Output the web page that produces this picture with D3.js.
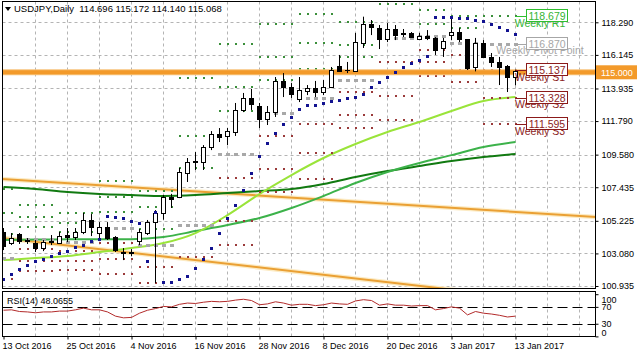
<!DOCTYPE html>
<html><head><meta charset="utf-8">
<script src="https://cdn.jsdelivr.net/npm/d3@7"></script>
<style>
body{margin:0;background:#fff}
svg{display:block}
text{font-family:"Liberation Sans",Arial,sans-serif}
</style></head>
<body><svg id="c" width="637" height="358"></svg>
<script>
// ---------- DATA ----------
const dates = ["2016-10-13","2016-10-14","2016-10-17","2016-10-18","2016-10-19","2016-10-20","2016-10-21","2016-10-24","2016-10-25","2016-10-26","2016-10-27","2016-10-28","2016-10-31","2016-11-01","2016-11-02","2016-11-03","2016-11-04","2016-11-07","2016-11-08","2016-11-09","2016-11-10","2016-11-11","2016-11-14","2016-11-15","2016-11-16","2016-11-17","2016-11-18","2016-11-21","2016-11-22","2016-11-23","2016-11-24","2016-11-25","2016-11-28","2016-11-29","2016-11-30","2016-12-01","2016-12-02","2016-12-05","2016-12-06","2016-12-07","2016-12-08","2016-12-09","2016-12-12","2016-12-13","2016-12-14","2016-12-15","2016-12-16","2016-12-19","2016-12-20","2016-12-21","2016-12-22","2016-12-23","2016-12-27","2016-12-28","2016-12-29","2016-12-30","2017-01-03","2017-01-04","2017-01-05","2017-01-06","2017-01-09","2017-01-10","2017-01-11","2017-01-12","2017-01-13"];
const open  = [104.49,103.76,104.35,103.89,103.76,103.43,103.83,103.76,104.29,104.16,104.49,105.28,104.42,104.81,104.16,103.17,103.10,103.89,104.42,105.14,105.74,106.79,106.80,108.37,109.09,109.09,110.08,110.94,110.81,111.07,112.52,113.31,112.78,111.92,112.38,114.43,114.03,113.24,113.77,113.96,113.70,114.03,115.41,115.15,115.08,116.93,118.18,117.91,117.19,117.85,117.59,117.59,117.19,117.39,117.26,116.60,117.45,117.65,117.19,115.35,116.93,116.01,115.68,115.41,114.696];
const high  = [104.75,104.42,104.42,104.09,103.96,103.96,104.29,104.49,104.75,104.75,105.74,105.67,105.14,105.14,104.22,103.43,103.36,104.68,105.28,105.93,106.92,107.00,108.70,109.36,109.75,110.21,111.13,111.33,111.33,112.98,113.64,113.90,112.98,112.78,114.69,114.95,114.29,114.69,114.16,114.43,114.49,115.35,116.14,115.68,117.59,118.66,118.44,118.11,118.24,118.11,117.85,117.65,117.59,117.78,117.32,117.26,118.60,117.91,117.19,117.26,117.12,116.27,116.01,115.48,115.172];
const low   = [103.30,103.63,103.70,103.70,103.17,103.23,103.63,103.70,103.83,103.96,104.35,104.22,104.09,103.96,103.17,102.64,102.90,103.63,104.29,101.13,105.30,106.07,106.72,107.78,108.57,108.57,109.88,110.41,110.21,110.81,112.38,112.52,111.33,111.53,112.06,113.37,113.31,113.04,113.50,113.37,113.50,113.96,115.02,114.95,115.02,116.60,117.45,116.53,116.99,117.12,117.32,117.26,117.12,117.12,116.14,116.01,117.12,116.99,115.15,115.06,115.94,115.35,114.16,113.70,114.140];
const close = [103.56,104.09,103.89,103.96,103.43,103.83,103.89,104.22,104.16,104.49,105.28,104.81,104.81,104.09,103.30,103.10,103.17,104.49,105.14,105.74,106.79,106.66,108.43,109.09,109.16,110.08,110.94,110.74,111.13,112.52,113.31,112.91,111.92,112.38,114.43,114.03,113.57,113.83,113.96,113.70,114.03,115.15,115.08,115.16,116.99,118.18,117.98,117.19,117.85,117.45,117.55,117.32,117.39,117.26,116.47,117.06,117.65,117.19,115.28,116.95,116.01,115.68,115.35,114.69,115.068];

// Parabolic SAR
const sar = [101.39,101.72,102.05,102.31,102.58,102.71,102.91,103.10,103.23,103.50,103.63,103.89,104.00,105.54,105.47,105.41,105.21,105.08,102.58,105.80,101.19,101.19,101.39,101.59,102.11,102.71,103.43,104.42,105.41,106.26,107.25,108.37,109.49,110.34,111.00,111.60,112.06,112.58,112.85,112.85,112.98,113.11,113.17,113.31,113.37,113.57,114.03,114.36,114.69,115.02,115.35,115.61,115.81,116.07,118.64,118.64,118.64,118.60,118.55,118.45,118.35,118.15,117.98,117.80,117.55];

// moving averages, sampled every 4 bars
const maBars = [0,4,8,12,16,20,24,28,32,36,40,44,48,52,56,60,64];
const maFast = [102.64,102.77,102.91,103.17,103.43,103.76,104.42,105.60,106.99,108.24,109.36,110.28,111.07,111.73,112.45,113.11,113.37];
const maMid  = [103.96,103.99,104.02,104.02,104.02,104.16,104.55,104.95,105.41,106.07,106.86,107.71,108.44,109.03,109.55,110.08,110.41];
const maSlow = [107.45,107.32,107.12,106.99,106.92,106.86,106.92,107.05,107.18,107.32,107.65,108.11,108.50,108.83,109.16,109.42,109.62];

// RSI(14)
const rsi = [62,63,59,58,56,58,58,60,60,63,67,63,63,58,48,44,45,55,62,66,71,70,76,79,78,81,83,82,83,86,88,85,75,77,82,79,74,76,76,73,75,79,77,76,84,87,85,74,77,74,74,72,73,73,63,66,70,67,51,59,55,53,50,46,48.0655];

// weekly pivots (first bar index of each week)
const pivWeekStart = [-3,2,7,12,17,22,27,32,37,42,47,52,56,60];
const pivR3 = [107.31,106.24,105.73,107.84,107.16,114.60,116.89,118.16,118.85,118.29,123.33,119.90,119.66,122.22];
const pivR2 = [105.74,105.50,105.08,106.79,106.15,110.80,114.01,116.03,116.90,116.82,121.05,119.07,118.72,120.41];
const pivR1 = [104.34,104.79,104.48,105.80,104.66,108.73,112.47,114.47,115.24,115.99,119.52,118.20,117.89,118.679];
const pivP  = [102.77,104.05,103.83,104.75,103.65,104.93,109.60,112.34,113.28,114.51,117.23,117.36,116.95,116.870];
const pivS1 = [101.37,103.34,103.23,103.76,102.16,102.86,108.06,110.78,111.62,113.68,115.70,116.49,116.12,115.137];
const pivS2 = [99.80,102.60,102.58,102.71,101.15,99.06,105.19,108.65,109.66,112.20,113.41,115.65,115.18,113.328];
const pivS3 = [98.23,101.89,101.98,101.72,99.66,96.99,103.66,107.09,107.99,111.36,111.87,114.77,114.35,111.595];
const pivLabelNames = ["Weekly R1","Weekly Pivot Point","Weekly S1","Weekly S2","Weekly S3"];

// trend lines: [barIndex, price] anchors
const trendUpper = [[0,107.97],[64,105.81]];
const trendLower = [[0,104.09],[55,100.76]];
const levelLine = 115.000;

const priceTicks = [118.290,116.145,113.935,111.790,109.580,107.435,105.225,103.080,100.935];
const dateTickLabels = ["13 Oct 2016","25 Oct 2016","4 Nov 2016","16 Nov 2016","28 Nov 2016","8 Dec 2016","20 Dec 2016","3 Jan 2017","13 Jan 2017"];
const dateTickDates = ["2016-10-13","2016-10-25","2016-11-04","2016-11-16","2016-11-28","2016-12-08","2016-12-20","2017-01-03","2017-01-13"];
const rsiTicks = [100,70,30,0];
const rsiLevels = [70,30];
const title = "USDJPY,Daily  114.696 115.172 114.140 115.068";

// ---------- DRAW ----------
const svg = d3.select('#c');
const PL=2.5, PR=595.5, PT=1.5, PB=288.5, RT=291.5, RB=336.5;
const x = d3.scaleLinear().domain([0,64]).range([3.5,515.5]);
const y = d3.scaleLinear().domain([100.935,118.290]).range([286,22.3]);
const yr = d3.scaleLinear().domain([0,100]).range([336.4,294.2]);
const px = v => Math.round(v)+0.5;

svg.append('rect').attr('width',637).attr('height',358).attr('fill','#fff');
const defs = svg.append('defs');
defs.append('clipPath').attr('id','cm').append('rect').attr('x',PL).attr('y',PT).attr('width',PR-PL).attr('height',PB-PT);
defs.append('clipPath').attr('id','cr').append('rect').attr('x',PL).attr('y',RT).attr('width',PR-PL).attr('height',RB-RT);

const gridIdx = d3.range(0, 76, 4).filter(i => x(i) < PR-2);
const main = svg.append('g').attr('clip-path','url(#cm)');
// grid
main.selectAll('.hg').data(priceTicks).join('line')
  .attr('x1',PL).attr('x2',PR).attr('y1',d=>px(y(d))).attr('y2',d=>px(y(d)))
  .attr('stroke','#b4b4b4').attr('stroke-dasharray','3,3');
main.selectAll('.vg').data(gridIdx.slice(1)).join('line')
  .attr('x1',d=>px(x(d)-0.5)).attr('x2',d=>px(x(d)-0.5)).attr('y1',PT).attr('y2',PB)
  .attr('stroke','#b4b4b4').attr('stroke-dasharray','3,3');

// trend lines (rays across panel)
function tline(a){
  const s=(a[1][1]-a[0][1])/(a[1][0]-a[0][0]);
  const i0=-2, i1=80;
  return [[i0,a[0][1]+s*(i0-a[0][0])],[i1,a[0][1]+s*(i1-a[0][0])]];
}
const lineXY = d3.line().x(d=>x(d[0])).y(d=>y(d[1]));
[trendUpper,trendLower].forEach(t=>{
  main.append('path').attr('d',lineXY(tline(t))).attr('stroke','#fcebc4').attr('stroke-width',4.5).attr('fill','none');
  main.append('path').attr('d',lineXY(tline(t))).attr('stroke','#eaa034').attr('stroke-width',2).attr('fill','none');
});

// moving averages
const maLine = d3.line().x((d,i)=>x(maBars[i])).y(d=>y(d)).curve(d3.curveMonotoneX);
main.append('path').attr('d',maLine(maSlow)).attr('stroke','#117a11').attr('stroke-width',2).attr('fill','none');
main.append('path').attr('d',maLine(maMid)).attr('stroke','#3cb24a').attr('stroke-width',2).attr('fill','none');
main.append('path').attr('d',maLine(maFast)).attr('stroke','#9ae43a').attr('stroke-width',2).attr('fill','none');

// weekly pivot dots
const pivSets = [
  {v:pivR3,c:'#3a8f3a',t:'d'},{v:pivR2,c:'#3a8f3a',t:'d'},{v:pivR1,c:'#3a8f3a',t:'d'},
  {v:pivP,c:'#a8a8a8',t:'p'},
  {v:pivS1,c:'#9a3a3a',t:'d'},{v:pivS2,c:'#9a3a3a',t:'d'},{v:pivS3,c:'#9a3a3a',t:'d'}];
const pivPts=[];
pivWeekStart.forEach((s,w)=>{
  const e = w<pivWeekStart.length-1 ? pivWeekStart[w+1]-1 : 64;
  for(let i=Math.max(0,s);i<=e;i++) pivSets.forEach(p=>pivPts.push({i,v:p.v[w],c:p.c,t:p.t}));
});
main.selectAll('.pv').data(pivPts).join('rect')
  .attr('x',d=>Math.round(x(d.i))-(d.t==='p'?2:1)).attr('y',d=>Math.round(y(d.v))-1)
  .attr('width',d=>d.t==='p'?4:2).attr('height',d=>d.t==='p'?3:2).attr('fill',d=>d.c);

// level line 115
main.append('line').attr('x1',PL).attr('x2',PR).attr('y1',y(levelLine)).attr('y2',y(levelLine))
  .attr('stroke','#f7c27a').attr('stroke-width',6);
main.append('line').attr('x1',PL).attr('x2',PR).attr('y1',y(levelLine)).attr('y2',y(levelLine))
  .attr('stroke','#f39a2a').attr('stroke-width',4);

// candles
const bars = d3.range(open.length);
main.selectAll('.wk').data(bars).join('line')
  .attr('x1',i=>x(i)).attr('x2',i=>x(i)).attr('y1',i=>y(high[i])).attr('y2',i=>y(low[i]))
  .attr('stroke','#000').attr('stroke-width',1);
main.selectAll('.bd').data(bars).join('rect')
  .attr('x',i=>x(i)-2).attr('width',4)
  .attr('y',i=>Math.round(y(Math.max(open[i],close[i])))+0.5)
  .attr('height',i=>Math.max(0.01,Math.round(y(Math.min(open[i],close[i])))-Math.round(y(Math.max(open[i],close[i])))))
  .attr('fill',i=>close[i]>=open[i]?'#fff':'#000').attr('stroke','#000').attr('stroke-width',1);

// SAR
main.selectAll('.sar').data(bars).join('rect')
  .attr('x',i=>Math.round(x(i))-2).attr('y',i=>Math.round(y(sar[i]))-1).attr('width',3).attr('height',3)
  .attr('fill','#121290');

// current week pivot labels
const curW = pivWeekStart.length-1;
const curLevels = [
  {v:pivR1[curW],c:'#2fbf2f',tc:'#35b535',n:pivLabelNames[0]},
  {v:pivP[curW],c:'#a6a6a6',tc:'#a6a6a6',n:pivLabelNames[1]},
  {v:pivS1[curW],c:'#8b1a1a',tc:'#8b2323',n:pivLabelNames[2]},
  {v:pivS2[curW],c:'#8b1a1a',tc:'#8b2323',n:pivLabelNames[3]},
  {v:pivS3[curW],c:'#8b1a1a',tc:'#8b2323',n:pivLabelNames[4]}];
const lab = svg.append('g');
curLevels.forEach(d=>{
  const yy = y(d.v);
  lab.append('line').attr('x1',x(64)).attr('x2',527).attr('y1',px(yy)).attr('y2',px(yy)).attr('stroke',d.c);
  lab.append('text').attr('x',540).attr('y',yy+10.5).attr('text-anchor','middle')
    .attr('font-size','10.5px').attr('fill',d.tc).text(d.n);
  lab.append('rect').attr('x',526.5).attr('y',Math.round(yy)-6.5).attr('width',41).attr('height',12)
    .attr('fill','#fff').attr('stroke',d.c);
  lab.append('text').attr('x',547).attr('y',Math.round(yy)+4).attr('text-anchor','middle')
    .attr('font-size','10.5px').attr('fill',d.tc).text(d3.format('.3f')(d.v));
});

// main border
svg.append('rect').attr('x',PL).attr('y',PT).attr('width',PR-PL).attr('height',PB-PT)
  .attr('fill','none').attr('stroke','#000');

// price axis
const ax = svg.append('g').attr('transform',`translate(${PR},0)`)
  .call(d3.axisRight(y).tickValues(priceTicks).tickSize(3).tickFormat(d3.format('.3f')));
ax.select('.domain').remove();
ax.selectAll('.tick line').attr('stroke','#000');
ax.selectAll('text').attr('font-size','9px').attr('fill','#000').attr('font-family','Liberation Sans, Arial, sans-serif');

// level label on axis
svg.append('rect').attr('x',596).attr('y',y(levelLine)-7).attr('width',41).attr('height',14).attr('fill','#f39a2a');
svg.append('text').attr('x',601).attr('y',y(levelLine)+3.5).attr('font-size','9px').attr('fill','#fff').text(d3.format('.3f')(levelLine));

// title
svg.append('path').attr('d','M5,7 L11,7 L8,11 Z').attr('fill','#000');
svg.append('text').attr('x',14).attr('y',12).attr('font-size','9.5px').attr('fill','#000').attr('xml:space','preserve').text(title);

// ---------- RSI panel ----------
const rp = svg.append('g').attr('clip-path','url(#cr)');
rp.selectAll('.vg').data(gridIdx.slice(1)).join('line')
  .attr('x1',d=>px(x(d)-0.5)).attr('x2',d=>px(x(d)-0.5)).attr('y1',RT).attr('y2',RB)
  .attr('stroke','#b4b4b4').attr('stroke-dasharray','3,3');
rp.selectAll('.lv').data(rsiLevels).join('line')
  .attr('x1',PL).attr('x2',PR).attr('y1',d=>px(yr(d))).attr('y2',d=>px(yr(d)))
  .attr('stroke','#000').attr('stroke-dasharray','10,5');
rp.append('path').attr('d',d3.line().x((d,i)=>x(i)).y(d=>yr(d))(rsi))
  .attr('stroke','#b22a2a').attr('stroke-width',1).attr('fill','none');
svg.append('text').attr('x',7).attr('y',304).attr('font-size','9px').attr('fill','#000')
  .text('RSI(14) ' + d3.format('.4f')(rsi[rsi.length-1]));
svg.append('rect').attr('x',PL).attr('y',RT).attr('width',PR-PL).attr('height',RB-RT)
  .attr('fill','none').attr('stroke','#000');
const rax = svg.append('g').attr('transform',`translate(${PR},0)`)
  .call(d3.axisRight(yr).tickValues(rsiTicks).tickSize(3).tickFormat(d3.format('d')));
rax.select('.domain').remove();
rax.selectAll('text').attr('font-size','9px').attr('fill','#000')
  .attr('dy',d=>d===100?'0.95em':(d===0?'-0.15em':'0.32em'));

// date axis
const di = dateTickDates.map(d=>dates.indexOf(d));
const dax = svg.append('g').attr('transform',`translate(0,${RB})`)
  .call(d3.axisBottom(x).tickValues(di).tickSize(3).tickFormat((d,k)=>dateTickLabels[k]));
dax.select('.domain').remove();
dax.selectAll('text').attr('font-size','9px').attr('fill','#000').attr('text-anchor','start').attr('dx','-1.5');
</script>
</body></html>
